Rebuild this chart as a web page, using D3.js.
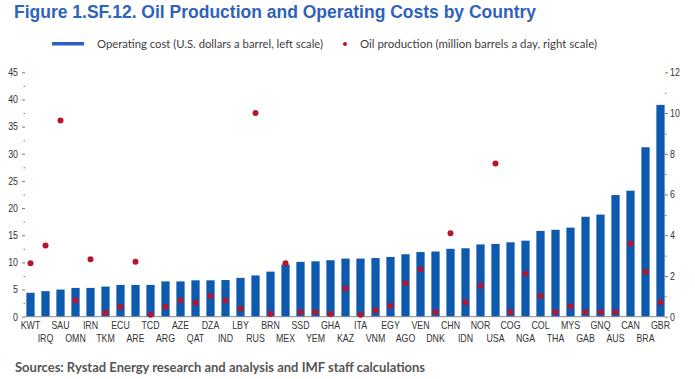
<!DOCTYPE html>
<html>
<head>
<meta charset="utf-8">
<script src="https://cdn.jsdelivr.net/npm/d3@7"></script>
<style>
  body { margin: 0; background: #fff; }
  svg { display: block; }
</style>
</head>
<body>
<div id="chart"></div>
<script>
// countries in bar order (cheapest to most expensive)
const countries = ['KWT', 'IRQ', 'SAU', 'OMN', 'IRN', 'TKM', 'ECU', 'ARE', 'TCD', 'ARG', 'AZE',
    'QAT', 'DZA', 'IND', 'LBY', 'RUS', 'BRN', 'MEX', 'SSD', 'YEM', 'GHA', 'KAZ', 'ITA', 'VNM',
    'EGY', 'AGO', 'VEN', 'DNK', 'CHN', 'IDN', 'NOR', 'USA', 'COG', 'NGA', 'COL', 'THA', 'MYS',
    'GAB', 'GNQ', 'AUS', 'CAN', 'BRA', 'GBR']

// operating cost, U.S. dollars a barrel (left scale)
const opCost = [4.4, 4.7, 5.0, 5.3, 5.3, 5.55, 5.85, 5.85, 5.85, 6.5, 6.5,
    6.7, 6.7, 6.75, 7.15, 7.6, 8.3, 9.6, 10.1, 10.2, 10.4, 10.7, 10.7, 10.8,
    11.0, 11.5, 11.9, 12.0, 12.5, 12.6, 13.3, 13.4, 13.7, 14.0, 15.8, 16.0, 16.4,
    18.4, 18.8, 22.4, 23.2, 31.2, 39.0]

// oil production, million barrels a day (right scale)
const production = [2.62, 3.5, 9.63, 0.79, 2.82, 0.2, 0.49, 2.7, 0.1, 0.49, 0.8,
    0.69, 1.02, 0.8, 0.39, 10.0, 0.13, 2.62, 0.23, 0.23, 0.13, 1.39, 0.1, 0.31,
    0.53, 1.64, 2.33, 0.23, 4.1, 0.71, 1.52, 7.52, 0.23, 2.11, 1.02, 0.23, 0.51,
    0.23, 0.23, 0.23, 3.6, 2.21, 0.71]

const leftTicks = [0, 5, 10, 15, 20, 25, 30, 35, 40, 45]
const rightTicks = [0, 2, 4, 6, 8, 10, 12]

const width = 695, height = 379
const plot = { left: 25, right: 665, top: 72.3, bottom: 316.7 }

const arial = '"Liberation Sans", Arial, sans-serif'
const squeeze = 0.84 // fake the narrow face of the original

const svg = d3.select('#chart')
    .append('svg')
    .attr('width', width)
    .attr('height', height)

const x = d3.scaleBand()
    .domain(countries)
    .range([23, 668])
    .paddingInner(0.45)
    .paddingOuter(0.225)

const yLeft = d3.scaleLinear().domain([0, 45]).range([plot.bottom, plot.top])
const yRight = d3.scaleLinear().domain([0, 12]).range([plot.bottom, plot.top])

// title
svg.append('text')
    .attr('x', 14)
    .attr('y', 18)
    .attr('textLength', 522)
    .attr('lengthAdjust', 'spacingAndGlyphs')
    .style('font-family', arial)
    .style('font-weight', 'bold')
    .style('font-size', '17.5px')
    .style('fill', '#2f62bb')
    .text('Figure 1.SF.12. Oil Production and Operating Costs by Country')

// legend
const legend = svg.append('g').style('font-family', 'Lato, "Open Sans", sans-serif')
    .style('font-size', '10.5px').style('fill', '#404040')
legend.append('rect')
    .attr('x', 52).attr('y', 42).attr('width', 32).attr('height', 3.5)
    .style('fill', '#2d60c2')
legend.append('text').attr('x', 97).attr('y', 47.5)
    .attr('textLength', 226).attr('lengthAdjust', 'spacingAndGlyphs')
    .text('Operating cost (U.S. dollars a barrel, left scale)')
legend.append('circle').attr('cx', 345).attr('cy', 44).attr('r', 2)
    .style('fill', '#c0112b')
legend.append('text').attr('x', 360).attr('y', 47.5)
    .attr('textLength', 237).attr('lengthAdjust', 'spacingAndGlyphs')
    .text('Oil production (million barrels a day, right scale)')

// bars
svg.append('g')
    .selectAll('rect')
    .data(countries)
    .enter()
    .append('rect')
    .attr('x', d => x(d))
    .attr('width', x.bandwidth())
    .attr('y', (d, i) => yLeft(opCost[i]))
    .attr('height', (d, i) => plot.bottom - yLeft(opCost[i]))
    .style('fill', '#0d5aae')

// baseline
svg.append('line')
    .attr('x1', plot.left).attr('x2', plot.right)
    .attr('y1', plot.bottom).attr('y2', plot.bottom)
    .style('stroke', '#8a8a8a').style('stroke-width', 1)

// production dots
svg.append('g')
    .selectAll('circle')
    .data(countries)
    .enter()
    .append('circle')
    .attr('cx', d => x(d) + x.bandwidth() / 2)
    .attr('cy', (d, i) => yRight(production[i]))
    .attr('r', 3)
    .style('fill', '#b8132f')

// left axis
const leftAxis = svg.append('g')
    .attr('transform', 'translate(' + plot.left + ',0)')
    .call(d3.axisLeft(yLeft).tickValues(leftTicks).tickSize(3).tickPadding(4))
leftAxis.select('.domain').remove()
svg.append('g')
    .attr('transform', 'translate(' + plot.left + ',0)')
    .call(d3.axisLeft(yLeft).tickValues(d3.range(2.5, 45, 5)).tickSize(1.5).tickFormat(''))
    .select('.domain').remove()

// right axis
const rightAxis = svg.append('g')
    .attr('transform', 'translate(' + plot.right + ',0)')
    .call(d3.axisRight(yRight).tickValues(rightTicks).tickSize(3).tickPadding(2))
rightAxis.select('.domain').remove()
svg.append('g')
    .attr('transform', 'translate(' + plot.right + ',0)')
    .call(d3.axisRight(yRight).tickValues(d3.range(1, 12, 2)).tickSize(1.5).tickFormat(''))
    .select('.domain').remove()

svg.selectAll('.tick line').style('stroke', '#777')
svg.selectAll('.tick text')
    .style('font-family', arial)
    .style('font-size', '10.5px')
    .style('fill', '#333')
// squeeze the numbers but keep their anchor next to the tick
leftAxis.selectAll('.tick text')
    .attr('transform', 'translate(' + (-7 * (1 - squeeze)) + ',0) scale(' + squeeze + ',1)')
rightAxis.selectAll('.tick text')
    .attr('transform', 'translate(' + (5 * (1 - squeeze)) + ',0) scale(' + squeeze + ',1)')

// category labels, alternating two rows
svg.append('g')
    .selectAll('text')
    .data(countries)
    .enter()
    .append('text')
    .attr('transform', (d, i) => 'translate(' + (x(d) + x.bandwidth() / 2) + ',' +
        (i % 2 === 0 ? 329 : 342) + ') scale(' + squeeze + ',1)')
    .attr('text-anchor', 'middle')
    .style('font-family', arial)
    .style('font-size', '10.5px')
    .style('fill', '#333')
    .text(d => d)

// source note
svg.append('text')
    .attr('x', 15)
    .attr('y', 372)
    .attr('textLength', 410)
    .attr('lengthAdjust', 'spacingAndGlyphs')
    .style('font-family', 'Lato, "Open Sans", sans-serif')
    .style('font-weight', 'bold')
    .style('font-size', '12.5px')
    .style('fill', '#555')
    .text('Sources: Rystad Energy research and analysis and IMF staff calculations')
</script>
</body>
</html>
